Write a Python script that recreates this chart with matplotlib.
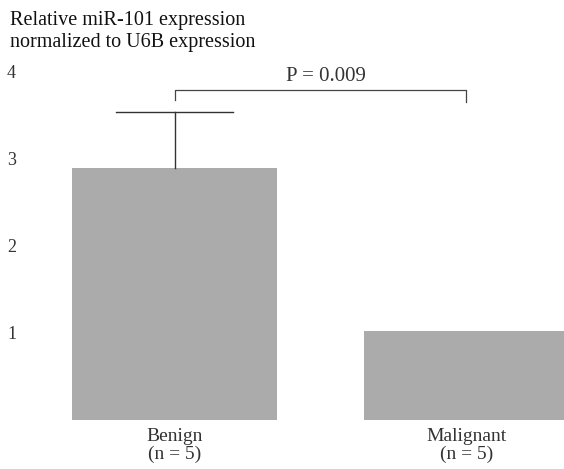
import numpy as np
import matplotlib
matplotlib.use('Agg')
from matplotlib import pyplot as plt

# Expression relative de miR-101 (normalisée sur U6B)
groups = ['Benign\n(n = 5)', 'Malignant\n(n = 5)']
means = [2.90, 1.02]
err_up = [0.64, 0.0]
y_ticks = [1, 2, 3, 4]
p_text = 'P = 0.009'
p_bracket = 3.79

plt.rcParams['font.family'] = ['Liberation Serif', 'DejaVu Serif']

fig = plt.figure(figsize=(5.64, 4.69), dpi=100)
ax = fig.add_axes([30 / 564, 49 / 469, 534 / 564, 390 / 469])

x = np.arange(len(groups))
ax.bar(x, means, width=0.70, color='#ababab', edgecolor='none')

# barre d'erreur seulement vers le haut, pour le groupe bénin
top = means[0] + err_up[0]
ax.plot([x[0], x[0]], [means[0], top], color='#333333', lw=1.0)
ax.plot([x[0] - 0.2, x[0] + 0.2], [top, top], color='#333333', lw=1.0)

# crochet de significativité
ax.plot([x[0], x[0], x[1], x[1]],
        [p_bracket - 0.11, p_bracket, p_bracket, p_bracket - 0.14],
        color='#444444', lw=0.9)
ax.text((x[0] + x[1]) / 2 + 0.02, p_bracket + 0.16, p_text, ha='center', va='center',
        fontsize=15, color='#333333')

ax.set_xlim(-0.495, 1.334)
ax.set_ylim(0, 4.48)
ax.set_yticks(y_ticks)
ax.set_yticklabels([str(t) for t in y_ticks], fontsize=13, color='#333333')
ax.set_xticks(x)
ax.set_xticklabels(groups, fontsize=14, color='#333333', linespacing=1.0)
ax.tick_params(axis='both', length=0)
ax.tick_params(axis='y', pad=10)
ax.tick_params(axis='x', pad=6)
for s in ax.spines.values():
    s.set_visible(False)

fig.text(10 / 564, 1 - 11 / 469, 'Relative miR-101 expression\nnormalized to U6B expression',
         ha='left', va='top', fontsize=14.5, color='#111111', linespacing=1.2)

fig.savefig('out.png', dpi=100)
